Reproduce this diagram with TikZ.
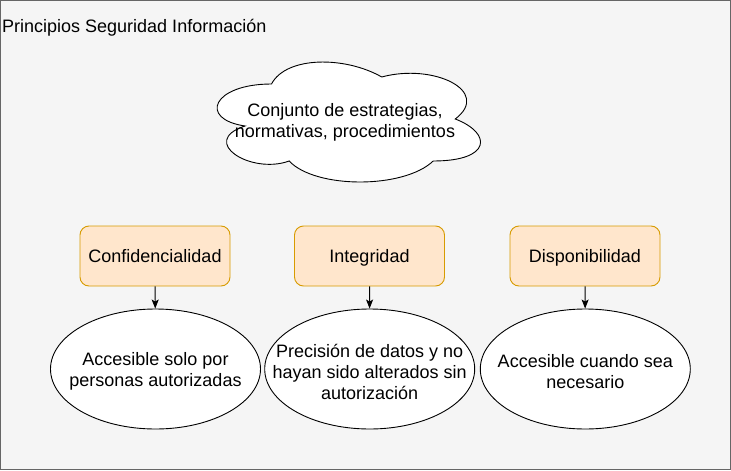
\documentclass[tikz,border=0pt]{standalone}
\usepackage{fontspec}
\setmainfont{Liberation Sans}
\usetikzlibrary{arrows.meta,shapes.geometric}
\definecolor{bgfill}{HTML}{F5F5F5}
\definecolor{bgline}{HTML}{666666}
\definecolor{boxfill}{HTML}{FFE6CC}
\definecolor{boxline}{HTML}{D79B00}
\tikzset{
  txt/.style={font=\fontsize{18}{21}\selectfont, align=center, inner sep=0pt},
  principle/.style={txt, draw=boxline, fill=boxfill, rounded corners=9pt, minimum width=150pt, minimum height=60pt, text height=17pt, text depth=4pt, line width=0.9pt},
  detail/.style={draw=black, fill=white, ellipse, inner sep=0pt, minimum width=210pt, minimum height=120pt, line width=0.9pt},
  dtext/.style={txt, yshift=-2.5pt},
  conn/.style={draw=black, line width=0.9pt, -{Stealth[length=9pt,width=7pt,inset=2pt]}}
}
\begin{document}
\begin{tikzpicture}[x=1pt,y=-1pt]
\useasboundingbox (0,0) rectangle (731,471);
\draw[bgline, fill=bgfill, line width=1pt] (0.5,0.5) rectangle (730.2,469.8);
\node[txt, anchor=base west] (title) at (2,32.3) {Principios Seguridad Información};
% cloud
\begin{scope}[shift={(198,49)}, x=294pt, y=-140pt]
\draw[black, fill=white, line width=0.9pt]
  (0.25,0.25) .. controls (0.05,0.25) and (0,0.5) .. (0.16,0.55)
  .. controls (0,0.66) and (0.18,0.9) .. (0.31,0.8)
  .. controls (0.4,1) and (0.7,1) .. (0.8,0.8)
  .. controls (1,0.8) and (1,0.6) .. (0.875,0.5)
  .. controls (1,0.3) and (0.8,0.1) .. (0.625,0.2)
  .. controls (0.5,0.05) and (0.3,0.05) .. (0.25,0.25) -- cycle;
\end{scope}
\node[txt, yshift=-3pt] (cloud) at (345,119) {Conjunto de estrategias,\\normativas, procedimientos};
% principles
\node[principle] (conf) at (155,256) {Confidencialidad};
\node[principle] (integ) at (369.5,256) {Integridad};
\node[principle] (disp) at (585,256) {Disponibilidad};
% details
\node[detail] (dconf) at (155.5,369) {};
\node[detail] (dinteg) at (369.7,369) {};
\node[detail] (ddisp) at (585.3,369) {};
\node[dtext] (tconf) at (dconf.center) {Accesible solo por\\personas autorizadas};
\node[dtext] (tinteg) at (dinteg.center) {Precisión de datos y no\\hayan sido alterados sin\\autorización};
\node[dtext] (tdisp) at (ddisp.center) {Accesible cuando sea\\necesario};
\draw[conn] (conf) -- (dconf);
\draw[conn] (integ) -- (dinteg);
\draw[conn] (disp) -- (ddisp);
\end{tikzpicture}
\end{document}
